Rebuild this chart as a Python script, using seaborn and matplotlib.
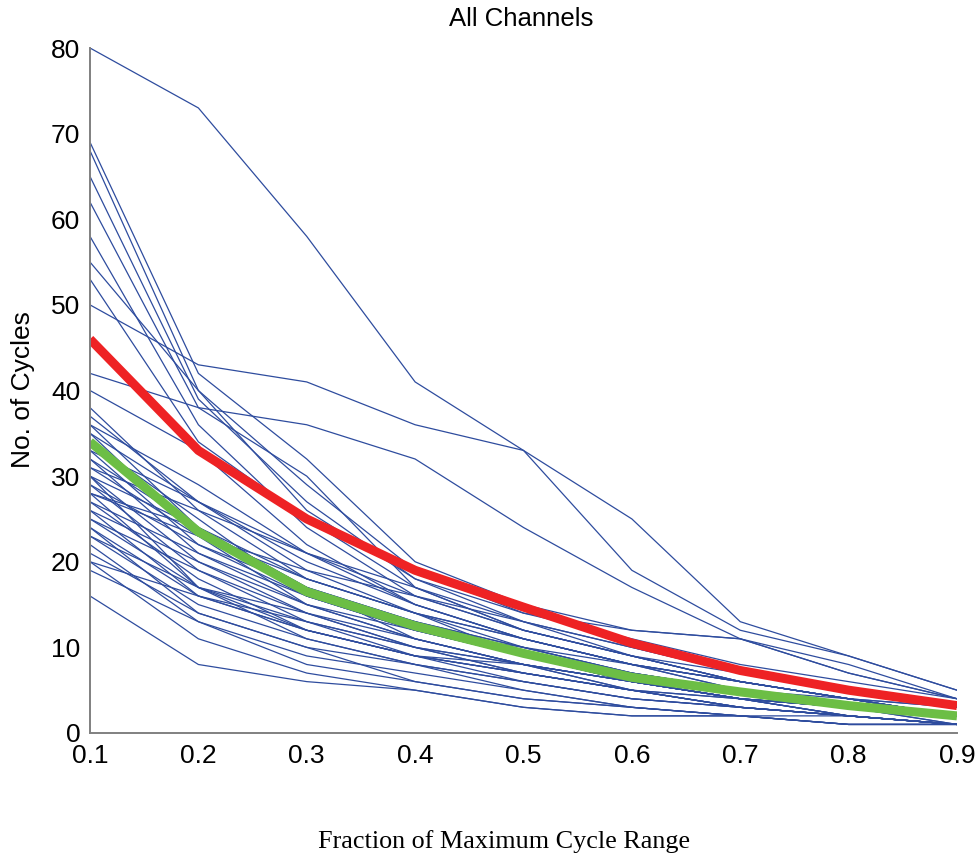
import numpy as np
import pandas as pd
import matplotlib
matplotlib.use("Agg")
import matplotlib.pyplot as plt
import seaborn as sns

# ---- data ----
fractions = [0.1, 0.2, 0.3, 0.4, 0.5, 0.6, 0.7, 0.8, 0.9]

ch01 = [80, 73, 58, 41, 33, 25, 13, 9, 5]
ch02 = [69, 42, 32, 20, 15, 12, 11, 8, 4]
ch03 = [68, 40, 29, 19, 14, 11, 8, 6, 4]
ch04 = [65, 39, 27, 18, 13, 10, 7, 5, 3]
ch05 = [62, 38, 30, 17, 12, 9, 6, 4, 3]
ch06 = [58, 36, 24, 16, 13, 10, 7, 5, 3]
ch07 = [55, 40, 26, 18, 14, 12, 11, 7, 4]
ch08 = [53, 34, 25, 17, 12, 9, 6, 4, 2]
ch09 = [50, 43, 41, 36, 33, 19, 12, 9, 5]
ch10 = [42, 38, 36, 32, 24, 17, 11, 7, 4]
ch11 = [40, 33, 22, 15, 11, 8, 6, 4, 2]
ch12 = [37, 27, 21, 16, 12, 9, 6, 4, 2]
ch13 = [38, 26, 18, 14, 11, 8, 5, 3, 2]
ch14 = [36, 24, 17, 13, 10, 7, 5, 3, 2]
ch15 = [35, 23, 19, 14, 9, 6, 4, 3, 2]
ch16 = [34, 25, 16, 12, 10, 7, 5, 3, 2]
ch17 = [33, 22, 16, 13, 9, 6, 4, 3, 1]
ch18 = [32, 24, 17, 11, 8, 6, 4, 3, 2]
ch19 = [32, 21, 15, 12, 9, 7, 5, 3, 2]
ch20 = [31, 23, 18, 14, 10, 7, 5, 3, 2]
ch21 = [30, 20, 14, 11, 8, 6, 4, 2, 1]
ch22 = [30, 24, 16, 12, 9, 6, 4, 3, 2]
ch23 = [29, 22, 17, 13, 10, 8, 6, 4, 2]
ch24 = [29, 19, 13, 10, 7, 5, 3, 2, 1]
ch25 = [28, 23, 15, 11, 8, 6, 4, 2, 1]
ch26 = [28, 17, 14, 10, 8, 5, 4, 2, 1]
ch27 = [27, 21, 16, 12, 9, 6, 4, 3, 1]
ch28 = [27, 18, 12, 9, 7, 5, 3, 2, 1]
ch29 = [26, 20, 15, 11, 8, 6, 4, 3, 2]
ch30 = [26, 16, 13, 9, 7, 5, 3, 2, 1]
ch31 = [25, 19, 14, 10, 8, 5, 4, 2, 1]
ch32 = [25, 17, 11, 8, 6, 4, 3, 2, 1]
ch33 = [24, 16, 12, 9, 6, 4, 3, 2, 1]
ch34 = [24, 14, 10, 8, 6, 4, 3, 2, 1]
ch35 = [23, 17, 13, 10, 7, 5, 3, 2, 1]
ch36 = [23, 15, 11, 8, 5, 3, 2, 2, 1]
ch37 = [22, 13, 9, 7, 5, 3, 2, 1, 1]
ch38 = [21, 14, 10, 6, 4, 3, 2, 1, 1]
ch39 = [20, 16, 12, 9, 7, 5, 3, 2, 1]
ch40 = [19, 13, 8, 6, 4, 3, 2, 1, 1]
ch41 = [16, 8, 6, 5, 3, 2, 2, 1, 1]
ch42 = [20, 11, 7, 5, 3, 2, 2, 1, 1]
ch43 = [33, 27, 20, 15, 11, 8, 6, 4, 2]
ch44 = [31, 26, 21, 17, 13, 9, 6, 4, 3]
ch45 = [35, 27, 19, 16, 12, 9, 7, 5, 3]
ch46 = [28, 24, 18, 14, 11, 8, 6, 4, 2]
ch47 = [36, 29, 21, 15, 11, 8, 5, 4, 2]
ch48 = [30, 17, 12, 9, 8, 6, 4, 3, 2]

channels = [ch01, ch02, ch03, ch04, ch05, ch06, ch07, ch08, ch09, ch10,
            ch11, ch12, ch13, ch14, ch15, ch16, ch17, ch18, ch19, ch20,
            ch21, ch22, ch23, ch24, ch25, ch26, ch27, ch28, ch29, ch30,
            ch31, ch32, ch33, ch34, ch35, ch36, ch37, ch38, ch39, ch40,
            ch41, ch42, ch43, ch44, ch45, ch46, ch47, ch48]

mean_curve = [46, 33, 25, 19, 14.7, 10.5, 7.3, 5.0, 3.2]
median_curve = [34, 23.5, 16.5, 12.5, 9.3, 6.5, 4.8, 3.2, 2.0]

yticks = [0, 10, 20, 30, 40, 50, 60, 70, 80]
xticks = fractions
xtick_labels = ["0.1", "0.2", "0.3", "0.4", "0.5", "0.6", "0.7", "0.8", "0.9"]

# ---- build long-form table ----
rows = []
for i, ch in enumerate(channels):
    for x, y in zip(fractions, ch):
        rows.append({"channel": i, "fraction": x, "cycles": y})
df = pd.DataFrame(rows)
df_mean = pd.DataFrame({"fraction": fractions, "cycles": mean_curve})
df_median = pd.DataFrame({"fraction": fractions, "cycles": median_curve})

sns.set_style("white")
plt.rcParams["font.family"] = ["Liberation Sans", "DejaVu Sans"]

fig = plt.figure(figsize=(9.79, 8.56), dpi=100)
ax = fig.add_axes([90 / 979, 1 - 733 / 856, 867 / 979, 685 / 856])

sns.lineplot(data=df, x="fraction", y="cycles", units="channel", estimator=None,
             color="#2E4C9E", linewidth=0.9, ax=ax, legend=False)
sns.lineplot(data=df_mean, x="fraction", y="cycles", color="#EE2224",
             linewidth=6.5, ax=ax, legend=False, solid_capstyle="butt")
sns.lineplot(data=df_median, x="fraction", y="cycles", color="#6CBE45",
             linewidth=6.5, ax=ax, legend=False, solid_capstyle="butt")

ax.set_xlim(0.1, 0.9)
ax.set_ylim(0, 80)
ax.set_xticks(xticks)
ax.set_xticklabels(xtick_labels)
ax.set_yticks(yticks)
ax.set_xlabel("")
ax.set_ylabel("")

for side in ["top", "right"]:
    ax.spines[side].set_visible(False)
for side in ["left", "bottom"]:
    ax.spines[side].set_color("#808080")
    ax.spines[side].set_linewidth(1.4)

ax.tick_params(axis="both", direction="in", length=8, width=1.2, color="#808080",
               labelsize=19, labelcolor="black")
ax.tick_params(axis="y", pad=7)
ax.tick_params(axis="x", pad=8)

fig.text(521 / 979, 1 - 19 / 856, "All Channels", ha="center", va="center",
         fontsize=18.5, color="black")
fig.text(23 / 979, 1 - 390 / 856, "No. of Cycles", ha="center", va="center",
         rotation=90, fontsize=19, color="black")
fig.text(504 / 979, 1 - 842 / 856, "Fraction of Maximum Cycle Range",
         ha="center", va="center", fontsize=18.8,
         family=["Liberation Serif", "DejaVu Serif"], color="black")

fig.savefig("out.png", dpi=100)
